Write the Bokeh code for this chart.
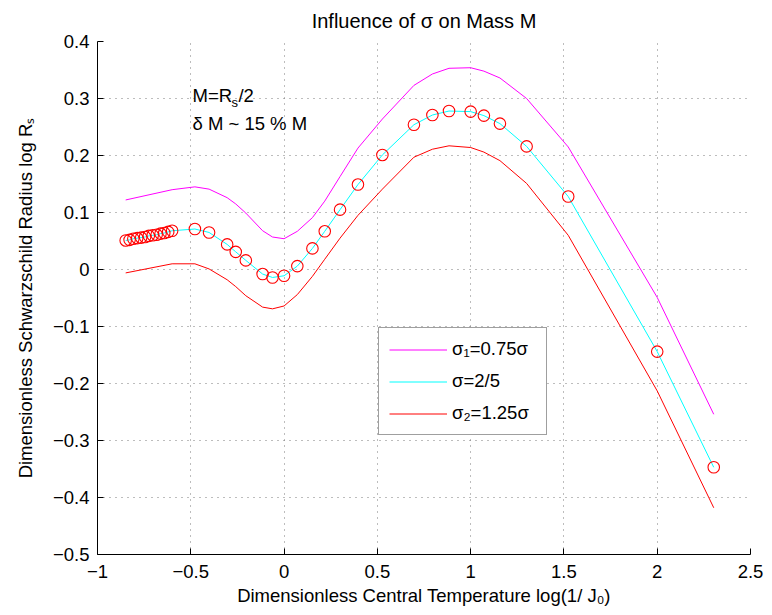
from bokeh.plotting import figure
from bokeh.models import Label, Legend, LegendItem
from bokeh.embed import file_html
from bokeh.resources import INLINE

# ---------------- data ----------------
x_ticks = [-1, -0.5, 0, 0.5, 1, 1.5, 2, 2.5]
x_tick_labels = ["\u22121", "\u22120.5", "0", "0.5", "1", "1.5", "2", "2.5"]
y_ticks = [-0.5, -0.4, -0.3, -0.2, -0.1, 0, 0.1, 0.2, 0.3, 0.4]
y_tick_labels = ["\u22120.5", "\u22120.4", "\u22120.3", "\u22120.2", "\u22120.1",
                 "0", "0.1", "0.2", "0.3", "0.4"]

# sigma = 2/5 (cyan line + circles)
x_mid = [-0.849, -0.828, -0.808, -0.787, -0.766, -0.745, -0.725, -0.704, -0.683,
         -0.662, -0.642, -0.621, -0.600,
         -0.478, -0.402, -0.305, -0.259, -0.205, -0.115, -0.062, 0.000, 0.071,
         0.152, 0.218, 0.300, 0.396, 0.527, 0.696, 0.795, 0.884, 1.000, 1.071,
         1.157, 1.300, 1.523, 2.000, 2.303]
y_mid = [0.051, 0.052, 0.054, 0.055, 0.056, 0.057, 0.059, 0.060, 0.061,
         0.063, 0.064, 0.066, 0.068,
         0.071, 0.065, 0.044, 0.031, 0.016, -0.008, -0.014, -0.011, 0.006,
         0.037, 0.067, 0.105, 0.149, 0.201, 0.254, 0.271, 0.278, 0.277, 0.270,
         0.256, 0.216, 0.128, -0.144, -0.347]

# sigma_1 = 0.75 sigma (magenta) and sigma_2 = 1.25 sigma (red)
x_side = [-0.849, -0.600, -0.478, -0.402, -0.305, -0.259, -0.205, -0.115, -0.062,
          0.000, 0.071, 0.152, 0.218, 0.300, 0.396, 0.527, 0.696, 0.795, 0.884,
          1.000, 1.071, 1.157, 1.300, 1.523, 2.000, 2.303]
y_s1 = [0.122, 0.140, 0.145, 0.141, 0.126, 0.115, 0.099, 0.068, 0.057,
        0.054, 0.067, 0.091, 0.120, 0.163, 0.213, 0.264, 0.323, 0.343, 0.353,
        0.354, 0.348, 0.336, 0.300, 0.215, -0.049, -0.254]
y_s2 = [-0.006, 0.010, 0.010, 0.001, -0.018, -0.030, -0.046, -0.066, -0.069,
        -0.064, -0.044, -0.012, 0.018, 0.055, 0.095, 0.141, 0.197, 0.211, 0.217,
        0.214, 0.206, 0.191, 0.151, 0.060, -0.213, -0.418]

legend_labels = ["\u03c3\u2081=0.75\u03c3", "\u03c3=2/5", "\u03c3\u2082=1.25\u03c3"]
title_text = "Influence of \u03c3 on Mass M"
x_label = "Dimensionless Central Temperature log(1/ J\u2080)"
y_label = "Dimensionless Schwarzschild Radius log R\u209b"

# annotation anchor (data units)
note_x = -0.491
note_y1 = 0.3046
note_y2 = 0.2567

FONT = "Liberation Sans"
FS = "18.5px"

p = figure(frame_width=653, frame_height=513,
           x_range=(-1, 2.5), y_range=(-0.5, 0.4),
           output_backend="svg", toolbar_location=None,
           min_border_left=97, min_border_right=20,
           min_border_top=41, min_border_bottom=59,
           title=title_text)
p.background_fill_color = "white"
p.border_fill_color = "white"
p.outline_line_color = None

p.title.align = "center"
p.title.vertical_align = "top"
p.title.text_font = FONT
p.title.text_font_size = "20px"
p.title.text_font_style = "normal"
p.title.text_color = "black"
p.title.standoff = 16

for ax, ticks, labels in ((p.xaxis[0], x_ticks, x_tick_labels),
                          (p.yaxis[0], y_ticks, y_tick_labels)):
    ax.ticker = ticks
    ax.major_label_overrides = dict(zip(ticks, labels))
    ax.axis_line_color = "black"
    ax.axis_line_width = 1
    ax.major_tick_line_color = "black"
    ax.major_tick_in = 6
    ax.major_tick_out = 0
    ax.minor_tick_line_color = None
    ax.major_label_text_font = FONT
    ax.major_label_text_font_size = FS
    ax.major_label_text_color = "black"
    ax.axis_label_text_font = FONT
    ax.axis_label_text_font_size = FS
    ax.axis_label_text_font_style = "normal"
    ax.axis_label_text_color = "black"

p.xaxis.axis_label = x_label
p.yaxis.axis_label = y_label
p.xaxis.major_label_standoff = 10
p.yaxis.major_label_standoff = 8
p.xaxis.axis_label_standoff = 4
p.yaxis.axis_label_standoff = 14

for g in (p.xgrid[0], p.ygrid[0]):
    g.grid_line_color = "#7a7a7a"
    g.grid_line_dash = "1 5"
    g.grid_line_width = 1

r1 = p.line(x_side, y_s1, line_color="#ff00ff", line_width=1)
r0 = p.line(x_mid, y_mid, line_color="#00ffff", line_width=1)
r2 = p.line(x_side, y_s2, line_color="#ff0000", line_width=1)
p.scatter(x_mid, y_mid, marker="circle", size=11.5, fill_color=None,
          line_color="#ff0000", line_width=1.1)

legend = Legend(items=[LegendItem(label=legend_labels[0], renderers=[r1]),
                       LegendItem(label=legend_labels[1], renderers=[r0]),
                       LegendItem(label=legend_labels[2], renderers=[r2])],
                location=(281, 119))
legend.label_text_font = FONT
legend.label_text_font_size = FS
legend.label_text_color = "black"
legend.border_line_color = "#404040"
legend.border_line_width = 1
legend.background_fill_color = "white"
legend.background_fill_alpha = 1
legend.padding = 10
legend.spacing = 10
legend.margin = 0
legend.glyph_width = 58
legend.glyph_height = 21
legend.label_height = 21
legend.label_width = 84
legend.label_standoff = 5
p.add_layout(legend)

common = dict(text_font=FONT, text_font_size=FS, text_color="black",
              text_baseline="alphabetic")
p.add_layout(Label(x=note_x, y=note_y1, text="M=R", **common))
p.add_layout(Label(x=note_x, y=note_y1, text="s", x_offset=39, y_offset=-7,
                   text_font=FONT, text_font_size="13px", text_color="black",
                   text_baseline="alphabetic"))
p.add_layout(Label(x=note_x, y=note_y1, text="/2", x_offset=46, **common))
p.add_layout(Label(x=note_x, y=note_y2, text="\u03b4 M ~ 15 % M", **common))

open("out.html", "w").write(file_html(p, INLINE))
